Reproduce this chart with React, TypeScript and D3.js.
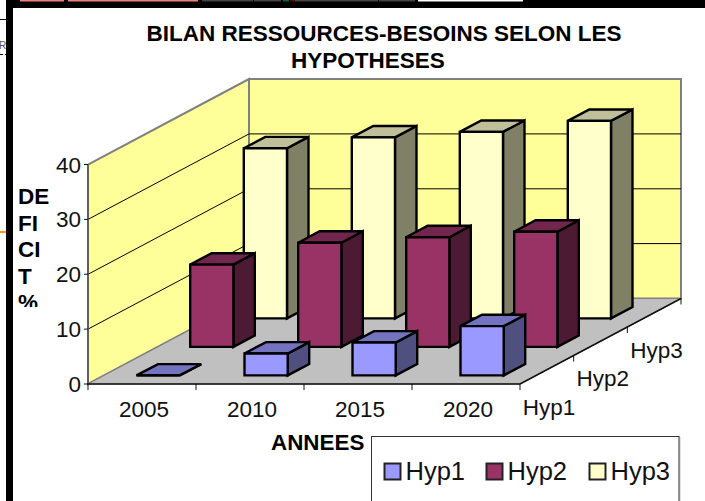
import React from "react";
import * as d3 from "d3";

const categories = ["2005", "2010", "2015", "2020"];
const seriesNames = ["Hyp1", "Hyp2", "Hyp3"];
const hyp1 = [0, 4, 6, 9];
const hyp2 = [15, 19, 20, 21];
const hyp3 = [31, 33, 34, 36];
const seriesValues = [hyp1, hyp2, hyp3];
const yTicks = [0, 10, 20, 30, 40];
const gridValues = [10, 20, 30];
const titleLines = ["BILAN RESSOURCES-BESOINS SELON LES", "HYPOTHESES"];
const yTitleLines = ["DE", "FI", "CI", "T", "%"];
const xTitle = "ANNEES";
const colors = [
  { front: "#9999ff", top: "#7373bf", side: "#505080" },
  { front: "#993366", top: "#73264d", side: "#4d1a33" },
  { front: "#ffffcc", top: "#bfbf99", side: "#808066" },
];

const FONT = "'Liberation Sans', Arial, sans-serif";
const x0 = 88, x1 = 520, y0 = 384, depthDx = 161, depthDy = 85.5;
const xScale = d3.scaleLinear().domain([0, categories.length]).range([x0, x1]);
const yScale = d3.scaleLinear().domain([0, 40]).range([0, -219.5]);
const dxScale = d3.scaleLinear().domain([0, seriesNames.length]).range([0, depthDx]);
const dyScale = d3.scaleLinear().domain([0, seriesNames.length]).range([0, -depthDy]);

const P = (c: number, d: number, v: number): [number, number] => [xScale(c) + dxScale(d), y0 + yScale(v) + dyScale(d)];
const poly = (pts: [number, number][]) => pts.map((p) => p.map((n) => n.toFixed(1)).join(",")).join(" ");

const BAR = 0.4;
const nC = categories.length;
const nS = seriesNames.length;

function Bar({ c, s, v }: { c: number; s: number; v: number }) {
  const a = c + 0.5 - BAR / 2, b = c + 0.5 + BAR / 2;
  const f = s + 0.5 - BAR / 2, r = s + 0.5 + BAR / 2;
  const col = colors[s];
  const common = { stroke: "#000", strokeWidth: 2.4, strokeLinejoin: "miter" as const };
  return (
    <g>
      <polygon points={poly([P(b, f, 0), P(b, r, 0), P(b, r, v), P(b, f, v)])} fill={col.side} {...common} />
      <polygon points={poly([P(a, f, v), P(b, f, v), P(b, r, v), P(a, r, v)])} fill={col.top} {...common} />
      <polygon points={poly([P(a, f, 0), P(b, f, 0), P(b, f, v), P(a, f, v)])} fill={col.front} {...common} />
    </g>
  );
}

export default function App() {
  const legendX = [384.5, 486.5, 589.5];
  return (
    <svg width={705} height={501} style={{ position: "absolute", left: 0, top: 0, background: "#fff" }} fontFamily={FONT}>
      {/* page fragments around the chart */}
      <rect x={6} y={0} width={699} height={8} fill="#000" />
      <rect x={20} y={0} width={44} height={1.5} fill="#f08080" />
      <rect x={68} y={0} width={130} height={1.5} fill="#f08080" />
      <rect x={202} y={0} width={51} height={1.5} fill="#444" />
      <rect x={254} y={0} width={27} height={1.5} fill="#444" />
      <rect x={283} y={0} width={6} height={1.5} fill="#063" />
      <rect x={290} y={0} width={5} height={1.5} fill="#600" />
      <rect x={295} y={0} width={83} height={1.5} fill="#444" />
      <rect x={379} y={0} width={36} height={1.5} fill="#444" />
      <rect x={418} y={0} width={105} height={1.5} fill="#fff" />
      <rect x={6} y={0} width={7} height={501} fill="#000" />
      <line x1={0} x2={6} y1={19.5} y2={19.5} stroke="#000" />
      <line x1={0} x2={6} y1={54.5} y2={54.5} stroke="#000" strokeDasharray="3 2" />
      <rect x={0} y={231} width={6} height={2} fill="#f7941d" />
      <clipPath id="leftclip"><rect x={0} y={30} width={6} height={30} /></clipPath>
      <text x={-1} y={49} fontSize={10} fill="#555" clipPath="url(#leftclip)">Rs</text>

      {titleLines.map((t, i) => (
        <text key={t} x={i === 0 ? 384 : 368} y={41 + i * 27} textAnchor="middle" fontSize={22.5} fontWeight="bold" fill="#000">{t}</text>
      ))}

      {/* walls and floor */}
      <polygon points={poly([P(0, 0, 0), P(0, nS, 0), P(0, nS, 40), P(0, 0, 40)])} fill="#ffff99" stroke="#808080" strokeWidth={2} />
      <polygon points={poly([P(0, nS, 0), P(nC, nS, 0), P(nC, nS, 40), P(0, nS, 40)])} fill="#ffff99" stroke="#808080" strokeWidth={2} />
      <polygon points={poly([P(0, 0, 0), P(nC, 0, 0), P(nC, nS, 0), P(0, nS, 0)])} fill="#c0c0c0" stroke="#808080" strokeWidth={1} />
      {gridValues.map((v) => (
        <polyline key={v} points={poly([P(0, 0, v), P(0, nS, v), P(nC, nS, v)])} fill="none" stroke="#000" strokeWidth={1} />
      ))}

      {/* bars, back to front */}
      {[2, 1, 0].map((s) => categories.map((_, c) => <Bar key={`${s}-${c}`} c={c} s={s} v={seriesValues[s][c]} />))}

      {/* axes */}
      <line x1={x0} y1={P(0, 0, 0)[1]} x2={x0} y2={P(0, 0, 40)[1]} stroke="#555" strokeWidth={1.5} />
      <line x1={x0 - 1} y1={y0} x2={x1} y2={y0} stroke="#111" strokeWidth={1.5} />
      <line x1={x1} y1={y0} x2={P(nC, nS, 0)[0]} y2={P(nC, nS, 0)[1]} stroke="#111" strokeWidth={1.5} />
      {yTicks.map((v) => {
        const y = P(0, 0, v)[1];
        return (
          <g key={v}>
            <line x1={x0 - 4} x2={x0} y1={y} y2={y} stroke="#111" />
            <text x={x0 - 7} y={y + 8} textAnchor="end" fontSize={22.5} fill="#111">{v}</text>
          </g>
        );
      })}
      {d3.range(nC + 1).map((c) => (
        <line key={c} x1={xScale(c)} x2={xScale(c)} y1={y0} y2={y0 + 6} stroke="#111" />
      ))}
      {categories.map((t, c) => (
        <text key={t} x={xScale(c + 0.5) + 2} y={417} textAnchor="middle" fontSize={22.5} fill="#111">{t}</text>
      ))}
      {d3.range(1, nS + 1).map((s) => {
        const [x, y] = P(nC, s, 0);
        return <line key={s} x1={x} y1={y} x2={x} y2={y + 6} stroke="#111" />;
      })}
      {seriesNames.map((t, s) => {
        const [x, y] = P(nC, s + 0.5, 0);
        return <text key={t} x={x - 24} y={y + 45} fontSize={22.5} fill="#111">{t}</text>;
      })}

      {/* axis titles */}
      <text x={271} y={450} fontSize={22.4} fontWeight="bold" fill="#000">{xTitle}</text>
      <svg x={0} y={180} width={60} height={127}>
        {yTitleLines.map((t, i) => (
          <text key={t} x={18} y={24 + i * 26.5} fontSize={22.5} fontWeight="bold" fill="#000">{t}</text>
        ))}
      </svg>

      {/* legend */}
      <rect x={371.5} y={436.5} width={307.5} height={70} fill="#fff" stroke="#333" strokeWidth={1} />
      <line x1={679.5} x2={679.5} y1={437} y2={501} stroke="#888" strokeWidth={1.5} />
      {seriesNames.map((t, s) => (
        <g key={t}>
          <rect x={legendX[s]} y={463.5} width={16} height={16} fill={colors[s].front} stroke="#222" strokeWidth={2} />
          <text x={legendX[s] + 21} y={480} fontSize={25.5} fill="#111">{t}</text>
        </g>
      ))}
    </svg>
  );
}
